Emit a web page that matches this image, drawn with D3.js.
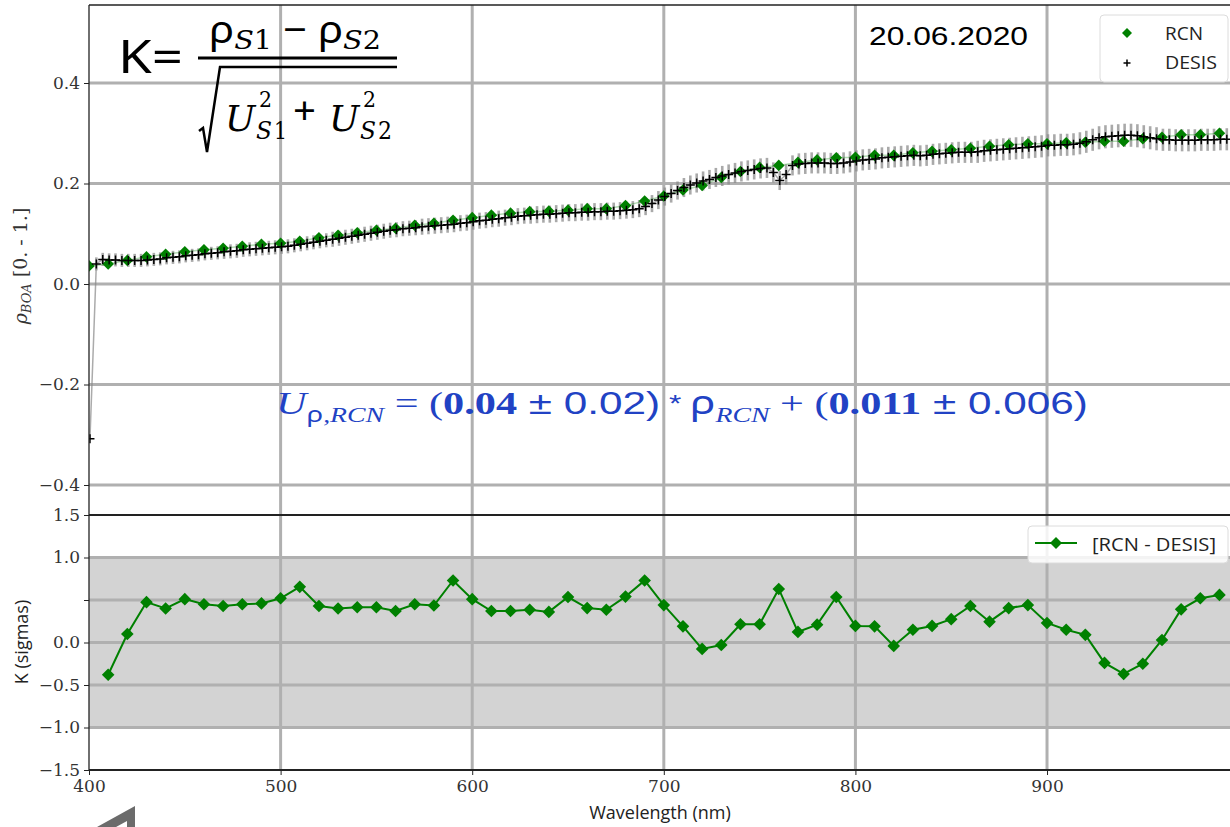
<!DOCTYPE html>
<html>
<head>
<meta charset="utf-8">
<script src="https://cdn.jsdelivr.net/npm/d3@7"></script>
<style>
  body { margin: 0; background: #fff; }
  svg { display: block; }
</style>
</head>
<body>
<div class="chart"></div>
<script>
// RCN reflectance, every 10 nm
const rcnWl = [400, 410, 420, 430, 440, 450, 460, 470, 480, 490,
  500, 510, 520, 530, 540, 550, 560, 570, 580, 590,
  600, 610, 620, 630, 640, 650, 660, 670, 680, 690,
  700, 710, 720, 730, 740, 750, 760, 770, 780, 790,
  800, 810, 820, 830, 840, 850, 860, 870, 880, 890,
  900, 910, 920, 930, 940, 950, 960, 970, 980, 990];
const rcnRho = [0.036, 0.040, 0.047, 0.054, 0.059, 0.064, 0.068, 0.071, 0.075, 0.079,
  0.081, 0.085, 0.092, 0.097, 0.102, 0.107, 0.111, 0.117, 0.121, 0.127,
  0.132, 0.137, 0.141, 0.144, 0.145, 0.147, 0.150, 0.150, 0.156, 0.165,
  0.175, 0.187, 0.196, 0.212, 0.224, 0.232, 0.236, 0.242, 0.247, 0.251,
  0.252, 0.256, 0.256, 0.261, 0.264, 0.267, 0.270, 0.274, 0.277, 0.279,
  0.279, 0.281, 0.282, 0.284, 0.284, 0.289, 0.292, 0.297, 0.297, 0.300];

// DESIS bands (first band 400.5 nm, ~3.33 nm apart)
const desisStart = 400.5;
const desisStep = 10 / 3;
const desisRho = [
  -0.308, 0.040, 0.049,  0.048, 0.048, 0.047,  0.047, 0.047, 0.047,  0.048, 0.049, 0.050,
  0.052, 0.053, 0.054,  0.056, 0.057, 0.058,  0.060, 0.061, 0.062,  0.064, 0.065, 0.066,
  0.068, 0.069, 0.070,  0.071, 0.072, 0.073,  0.074, 0.075, 0.077,  0.079, 0.081, 0.083,
  0.085, 0.087, 0.089,  0.091, 0.093, 0.095,  0.097, 0.099, 0.101,  0.103, 0.105, 0.107,
  0.108, 0.110, 0.111,  0.112, 0.114, 0.115,  0.116, 0.117, 0.118,  0.119, 0.121, 0.122,
  0.124, 0.126, 0.127,  0.129, 0.130, 0.132,  0.133, 0.135, 0.136,  0.137, 0.138, 0.139,
  0.139, 0.140, 0.141,  0.142, 0.142, 0.143,  0.143, 0.144, 0.144,  0.145, 0.145, 0.146,
  0.147, 0.148, 0.150,  0.154, 0.160, 0.167,  0.174, 0.180, 0.186,  0.192, 0.197, 0.201,
  0.205, 0.208, 0.212,  0.215, 0.218, 0.221,  0.224, 0.226, 0.228,  0.230, 0.231, 0.222,
  0.206, 0.218, 0.236,  0.239, 0.240, 0.241,  0.241, 0.241, 0.240,  0.240, 0.241, 0.243,
  0.245, 0.247, 0.248,  0.249, 0.251, 0.252,  0.253, 0.254, 0.255,  0.256, 0.255, 0.256,
  0.258, 0.259, 0.260,  0.261, 0.262, 0.262,  0.262, 0.263, 0.265,  0.266, 0.267, 0.268,
  0.269, 0.270, 0.271,  0.272, 0.273, 0.274,  0.276, 0.276, 0.277,  0.277, 0.278, 0.280,
  0.283, 0.287, 0.291,  0.293, 0.294, 0.295,  0.296, 0.296, 0.295,  0.293, 0.291, 0.289,
  0.287, 0.287, 0.286,  0.286, 0.286, 0.286,  0.287, 0.287, 0.287,  0.288, 0.288];
const desisErr = [
  0.012, 0.013, 0.013,  0.013, 0.013, 0.013,  0.013, 0.013, 0.013,  0.013, 0.013, 0.013,
  0.013, 0.013, 0.013,  0.013, 0.013, 0.013,  0.013, 0.013, 0.013,  0.014, 0.014, 0.014,
  0.014, 0.014, 0.014,  0.014, 0.014, 0.014,  0.014, 0.014, 0.014,  0.014, 0.014, 0.014,
  0.014, 0.014, 0.015,  0.015, 0.015, 0.015,  0.015, 0.015, 0.015,  0.015, 0.015, 0.015,
  0.015, 0.015, 0.015,  0.015, 0.016, 0.016,  0.016, 0.016, 0.016,  0.016, 0.016, 0.016,
  0.016, 0.016, 0.016,  0.016, 0.016, 0.016,  0.016, 0.016, 0.016,  0.017, 0.017, 0.017,
  0.017, 0.017, 0.017,  0.017, 0.017, 0.017,  0.017, 0.017, 0.017,  0.017, 0.017, 0.017,
  0.017, 0.017, 0.017,  0.017, 0.017, 0.018,  0.018, 0.018, 0.018,  0.019, 0.019, 0.019,
  0.019, 0.019, 0.019,  0.020, 0.020, 0.020,  0.020, 0.020, 0.020,  0.020, 0.020, 0.020,
  0.019, 0.020, 0.020,  0.021, 0.021, 0.021,  0.021, 0.021, 0.021,  0.021, 0.021, 0.021,
  0.021, 0.021, 0.021,  0.021, 0.021, 0.021,  0.021, 0.021, 0.021,  0.021, 0.021, 0.021,
  0.021, 0.021, 0.021,  0.021, 0.021, 0.021,  0.021, 0.022, 0.022,  0.022, 0.022, 0.022,
  0.022, 0.022, 0.022,  0.022, 0.022, 0.022,  0.022, 0.022, 0.022,  0.022, 0.022, 0.022,
  0.022, 0.022, 0.023,  0.023, 0.023, 0.023,  0.023, 0.023, 0.023,  0.023, 0.023, 0.023,
  0.022, 0.022, 0.022,  0.022, 0.022, 0.022,  0.022, 0.022, 0.022,  0.022, 0.022];

// K = (RCN - DESIS) / sqrt(U1^2 + U2^2)
const kWl = [410, 420, 430, 440, 450, 460, 470, 480, 490,
  500, 510, 520, 530, 540, 550, 560, 570, 580, 590,
  600, 610, 620, 630, 640, 650, 660, 670, 680, 690,
  700, 710, 720, 730, 740, 750, 760, 770, 780, 790,
  800, 810, 820, 830, 840, 850, 860, 870, 880, 890,
  900, 910, 920, 930, 940, 950, 960, 970, 980, 990];
const kVals = [-0.38, 0.10, 0.475, 0.40, 0.51, 0.45, 0.43, 0.45, 0.46,
  0.52, 0.655, 0.43, 0.40, 0.415, 0.415, 0.37, 0.45, 0.435, 0.73,
  0.51, 0.37, 0.37, 0.385, 0.36, 0.535, 0.405, 0.385, 0.54, 0.73,
  0.44, 0.19, -0.075, -0.03, 0.215, 0.215, 0.63, 0.125, 0.21, 0.535,
  0.195, 0.19, -0.04, 0.15, 0.195, 0.275, 0.43, 0.245, 0.405, 0.44,
  0.23, 0.15, 0.09, -0.24, -0.37, -0.25, 0.03, 0.39, 0.52, 0.56];

const xTicks = [400, 500, 600, 700, 800, 900];
const topTicks = [-0.4, -0.2, 0.0, 0.2, 0.4];
const botTicks = [-1.5, -1.0, -0.5, 0.0, 0.5, 1.0, 1.5];
const botHiddenLabel = 0.5;

const width = 1230, height = 827;
const green = "#008000", blue = "#2142c4", gridCol = "#b0b0b0";
const serif = "'DejaVu Serif', serif";
const sans = "'Open Sans', sans-serif";

let svg = d3.select(".chart").append("svg")
  .attr("width", width).attr("height", height)
  .style("background", "#fff");

let x = d3.scaleLinear().domain([400, 995.5]).range([89, 1230]);
let yTop = d3.scaleLinear().domain([-0.4, 0.4]).range([485, 83]);
let yBot = d3.scaleLinear().domain([-1.5, 1.5]).range([770, 515]);
const topPanel = { y0: 5, y1: 515 };
const botPanel = { y0: 515, y1: 770 };

function fmt(d) {
  return d3.format(".1f")(d).replace("-", "\u2212");
}

// stretch a group horizontally so that it spans [x0, x1]
function fitX(g, x0, x1) {
  const b = g.node().getBBox();
  const s = (x1 - x0) / b.width;
  g.attr("transform", "translate(" + (x0 - b.x * s) + ",0) scale(" + s + ",1)");
}

let defs = svg.append("defs");
defs.append("clipPath").attr("id", "clipTop").append("rect")
  .attr("x", 89).attr("y", topPanel.y0).attr("width", width - 89).attr("height", topPanel.y1 - topPanel.y0);
defs.append("clipPath").attr("id", "clipBot").append("rect")
  .attr("x", 89).attr("y", botPanel.y0).attr("width", width - 89).attr("height", botPanel.y1 - botPanel.y0);

// ---- LOWER PANEL BACKGROUND BAND ----
svg.append("rect")
  .attr("x", 89).attr("width", width - 89)
  .attr("y", yBot(1)).attr("height", yBot(-1) - yBot(1))
  .attr("fill", "#d3d3d3");

// ---- GRID ----
let grid = svg.append("g").attr("stroke", gridCol).attr("stroke-width", 3);
grid.selectAll(".gx-top").data(xTicks.slice(1)).enter().append("line")
  .attr("x1", d => x(d)).attr("x2", d => x(d))
  .attr("y1", topPanel.y0).attr("y2", topPanel.y1);
grid.selectAll(".gx-bot").data(xTicks.slice(1)).enter().append("line")
  .attr("x1", d => x(d)).attr("x2", d => x(d))
  .attr("y1", botPanel.y0).attr("y2", botPanel.y1);
grid.selectAll(".gy-top").data(topTicks).enter().append("line")
  .attr("x1", 89).attr("x2", width)
  .attr("y1", d => yTop(d)).attr("y2", d => yTop(d));
grid.selectAll(".gy-bot").data(botTicks.slice(1, -1)).enter().append("line")
  .attr("x1", 89).attr("x2", width)
  .attr("y1", d => yBot(d)).attr("y2", d => yBot(d));

// ---- UPPER PANEL DATA ----
let desis = desisRho.map((v, i) => ({ wl: desisStart + i * desisStep, v: v, e: desisErr[i] }));
let rcn = rcnWl.map((w, i) => ({ wl: w, v: rcnRho[i] }));

let upperG = svg.append("g").attr("clip-path", "url(#clipTop)");

upperG.append("g").attr("stroke", "#8c8c8c").attr("stroke-opacity", 0.75).attr("stroke-width", 2.6)
  .selectAll("line").data(desis.slice(1)).enter().append("line")
  .attr("x1", d => x(d.wl)).attr("x2", d => x(d.wl))
  .attr("y1", d => yTop(d.v - d.e)).attr("y2", d => yTop(d.v + d.e));

upperG.append("path").datum(desis)
  .attr("fill", "none").attr("stroke", "#888").attr("stroke-opacity", 0.7).attr("stroke-width", 1.5)
  .attr("d", d3.line().x(d => x(d.wl)).y(d => yTop(d.v)));

upperG.append("path").datum(rcn)
  .attr("fill", "none").attr("stroke", green).attr("stroke-opacity", 0.3).attr("stroke-width", 1.5)
  .attr("d", d3.line().x(d => x(d.wl)).y(d => yTop(d.v)));

const diamond = s => "M0," + (-s) + "L" + s + ",0L0," + s + "L" + (-s) + ",0Z";
const plus = s => "M" + (-s) + ",0H" + s + "M0," + (-s) + "V" + s;

upperG.selectAll(".rcn").data(rcn).enter().append("path")
  .attr("class", "rcn")
  .attr("transform", d => "translate(" + x(d.wl) + "," + yTop(d.v) + ")")
  .attr("d", diamond(5.8)).attr("fill", green);

upperG.selectAll(".desis").data(desis).enter().append("path")
  .attr("class", "desis")
  .attr("transform", d => "translate(" + x(d.wl) + "," + yTop(d.v) + ")")
  .attr("d", plus(4.5)).attr("stroke", "#000").attr("stroke-width", 1.5);

// ---- LOWER PANEL DATA ----
let kData = kWl.map((w, i) => ({ wl: w, v: kVals[i] }));
let lowerG = svg.append("g").attr("clip-path", "url(#clipBot)");
lowerG.append("path").datum(kData)
  .attr("fill", "none").attr("stroke", green).attr("stroke-width", 2)
  .attr("d", d3.line().x(d => x(d.wl)).y(d => yBot(d.v)));
lowerG.selectAll(".k").data(kData).enter().append("path")
  .attr("transform", d => "translate(" + x(d.wl) + "," + yBot(d.v) + ")")
  .attr("d", diamond(6.3)).attr("fill", green);

// ---- AXES ----
let yAxisTop = d3.axisLeft(yTop).tickValues(topTicks).tickFormat(fmt).tickSize(5).tickPadding(4);
let yAxisBot = d3.axisLeft(yBot).tickValues(botTicks)
  .tickFormat(d => (d === botHiddenLabel ? "" : fmt(d))).tickSize(5).tickPadding(4);
let xAxis = d3.axisBottom(x).tickValues(xTicks).tickFormat(d3.format("d")).tickSize(5).tickPadding(5);

function styleAxis(g) {
  g.select(".domain").remove();
  g.attr("font-family", serif);
  g.selectAll("text").attr("font-family", serif).attr("font-size", 17).attr("fill", "#333");
  g.selectAll("line").attr("stroke", "#222");
}

svg.append("g").attr("transform", "translate(89,0)").call(yAxisTop).call(styleAxis);
svg.append("g").attr("transform", "translate(89,0)").call(yAxisBot).call(styleAxis);
svg.append("g").attr("transform", "translate(0,770)").call(xAxis).call(styleAxis);

// spines
let spines = svg.append("g").attr("stroke", "#222").attr("stroke-width", 1.3);
spines.append("line").attr("x1", 89).attr("x2", 89).attr("y1", topPanel.y0).attr("y2", botPanel.y1);
spines.append("line").attr("x1", 89).attr("x2", width).attr("y1", topPanel.y0).attr("y2", topPanel.y0);
spines.append("line").attr("x1", 89).attr("x2", width).attr("y1", 515).attr("y2", 515).attr("stroke-width", 1.8);
spines.append("line").attr("x1", 89).attr("x2", width).attr("y1", 770).attr("y2", 770).attr("stroke-width", 1.8);

// axis titles
svg.append("text")
  .attr("x", 660).attr("y", 819).attr("text-anchor", "middle")
  .attr("font-family", sans).attr("font-size", 18).attr("fill", "#222")
  .text("Wavelength (nm)");

svg.append("text")
  .attr("transform", "translate(28,642) rotate(-90)").attr("text-anchor", "middle")
  .attr("font-family", sans).attr("font-size", 18).attr("fill", "#222")
  .text("K (sigmas)");

let ylab = svg.append("text")
  .attr("transform", "translate(27,266) rotate(-90)").attr("text-anchor", "middle")
  .attr("font-family", serif).attr("font-size", 19).attr("fill", "#333");
ylab.append("tspan").attr("font-style", "italic").text("\u03c1");
ylab.append("tspan").attr("font-style", "italic").attr("font-size", 13).attr("dy", 4).text("BOA");
ylab.append("tspan").attr("dy", -4).text(" [0. - 1.]");

// ---- LEGENDS ----
let leg1 = svg.append("g");
leg1.append("rect").attr("x", 1100).attr("y", 15).attr("width", 128).attr("height", 67).attr("rx", 4)
  .attr("fill", "#fff").attr("fill-opacity", 0.85).attr("stroke", "#dcdcdc");
leg1.append("path").attr("transform", "translate(1127,33)").attr("d", diamond(5)).attr("fill", green);
leg1.append("path").attr("transform", "translate(1127,63)").attr("d", plus(3.5))
  .attr("stroke", "#000").attr("stroke-width", 1.5);
leg1.append("text").attr("x", 1165).attr("y", 40).attr("font-family", sans).attr("font-size", 19)
  .attr("fill", "#222").attr("textLength", 38).attr("lengthAdjust", "spacingAndGlyphs").text("RCN");
leg1.append("text").attr("x", 1165).attr("y", 69).attr("font-family", sans).attr("font-size", 19)
  .attr("fill", "#222").attr("textLength", 52).attr("lengthAdjust", "spacingAndGlyphs").text("DESIS");

let leg2 = svg.append("g");
leg2.append("rect").attr("x", 1028).attr("y", 526).attr("width", 200).attr("height", 37).attr("rx", 4)
  .attr("fill", "#fff").attr("fill-opacity", 0.85).attr("stroke", "#dcdcdc");
leg2.append("line").attr("x1", 1035).attr("x2", 1077).attr("y1", 543).attr("y2", 543)
  .attr("stroke", green).attr("stroke-width", 2);
leg2.append("path").attr("transform", "translate(1056,543)").attr("d", diamond(6)).attr("fill", green);
leg2.append("text").attr("x", 1092).attr("y", 551).attr("font-family", sans).attr("font-size", 19)
  .attr("fill", "#222").attr("textLength", 124).attr("lengthAdjust", "spacingAndGlyphs").text("[RCN - DESIS]");

// ---- ANNOTATIONS ----
svg.append("text").attr("x", 869).attr("y", 45)
  .attr("font-family", "'Liberation Sans', Arial, sans-serif").attr("font-size", 25.5).attr("fill", "#000")
  .attr("textLength", 159).attr("lengthAdjust", "spacingAndGlyphs").text("20.06.2020");

// K formula
let kf = svg.append("g").attr("fill", "#000");
kf.append("text").attr("x", 118).attr("y", 73).attr("font-family", "'Noto Sans', sans-serif")
  .attr("font-size", 46).attr("textLength", 65).attr("lengthAdjust", "spacingAndGlyphs").text("K=");

let num = kf.append("g");
let numT = num.append("text").attr("y", 43).attr("font-size", 38).attr("font-family", "'Noto Sans', sans-serif");
numT.append("tspan").text("\u03c1");
numT.append("tspan").attr("font-family", serif).attr("font-style", "italic").attr("font-size", 26).attr("dy", 6).text("S");
numT.append("tspan").attr("font-family", serif).attr("font-size", 26).text("1");
numT.append("tspan").attr("dy", -6).text(" \u2212 \u03c1");
numT.append("tspan").attr("font-family", serif).attr("font-style", "italic").attr("font-size", 26).attr("dy", 6).text("S");
numT.append("tspan").attr("font-family", serif).attr("font-size", 26).text("2");
fitX(num, 209, 381);

kf.append("line").attr("x1", 198).attr("x2", 397).attr("y1", 58).attr("y2", 58)
  .attr("stroke", "#000").attr("stroke-width", 3);
kf.append("path").attr("d", "M199,131 L203,128 L207,152 L220,67 L397,67")
  .attr("fill", "none").attr("stroke", "#000").attr("stroke-width", 2.5).attr("stroke-linejoin", "miter");

// denominator: base letters, superscripts and subscripts as separate texts
function mtext(g, xx, yy, size, str, italic, len, family) {
  let t = g.append("text").attr("x", xx).attr("y", yy).attr("font-size", size)
    .attr("font-family", family || serif).attr("font-style", italic ? "italic" : "normal").text(str);
  if (len) t.attr("textLength", len).attr("lengthAdjust", "spacingAndGlyphs");
  return t;
}
let den = kf.append("g");
mtext(den, 225, 131, 36, "U", true);
mtext(den, 259, 107, 22, "2", false, 13);
mtext(den, 256, 139, 24, "S", true, 16);
mtext(den, 274, 139, 24, "1", false, 13);
mtext(den, 293, 124, 38, "+", false, 23, "'Noto Sans', sans-serif");
mtext(den, 329, 131, 36, "U", true);
mtext(den, 363, 107, 22, "2", false, 13);
mtext(den, 360, 139, 24, "S", true, 16);
mtext(den, 378, 139, 24, "2", false, 14);

// uncertainty model
let eq = svg.append("g");
let eqT = eq.append("text").attr("y", 414).attr("fill", blue).attr("font-size", 32)
  .attr("font-family", "'Liberation Serif', serif");
eqT.append("tspan").attr("font-style", "italic").text("U");
eqT.append("tspan").attr("font-size", 21).attr("dy", 8).attr("font-family", "'Noto Sans', sans-serif").text("\u03c1");
eqT.append("tspan").attr("font-size", 21).attr("font-style", "italic").text(",RCN");
eqT.append("tspan").attr("dy", -8).text(" = (");
eqT.append("tspan").attr("font-weight", "bold").text("0.04");
eqT.append("tspan").attr("font-family", "'Liberation Sans', sans-serif").text(" \u00b1 0.02)");
eqT.append("tspan").attr("font-family", "'Liberation Sans', sans-serif").attr("font-size", 24).attr("dy", -2).text("   *   ");
eqT.append("tspan").attr("font-family", "'Noto Sans', sans-serif").attr("dy", 2).text("\u03c1");
eqT.append("tspan").attr("font-size", 21).attr("dy", 8).attr("font-style", "italic").text("RCN");
eqT.append("tspan").attr("dy", -8).text(" + (");
eqT.append("tspan").attr("font-weight", "bold").text("0.011");
eqT.append("tspan").attr("font-family", "'Liberation Sans', sans-serif").text(" \u00b1 0.006)");
fitX(eq, 276, 1088);

// logo fragment bottom-left
svg.append("path")
  .attr("d", "M97,827 L135,806 L135,827 Z M116,827 L127,821 L127,827 Z")
  .attr("fill", "#6b6b6b").attr("fill-rule", "evenodd");
</script>
</body>
</html>
